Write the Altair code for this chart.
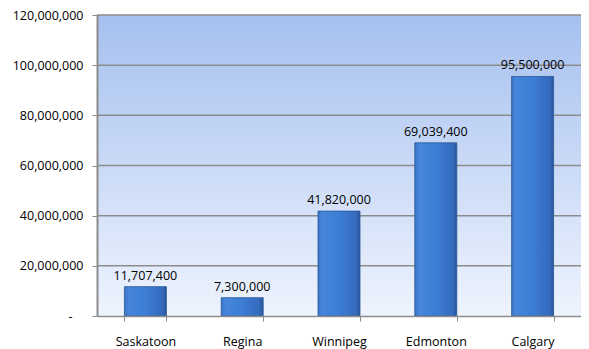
import altair as alt
import pandas as pd

cities = ["Saskatoon", "Regina", "Winnipeg", "Edmonton", "Calgary"]
values = [11707400, 7300000, 41820000, 69039400, 95500000]
y_ticks = [0, 20000000, 40000000, 60000000, 80000000, 100000000, 120000000]

df = pd.DataFrame({"city": cities, "value": values})
grid_df = pd.DataFrame({"tick": y_ticks[1:]})

FONT = "Open Sans"

bar_grad = alt.Gradient(
    gradient="linear", x1=0, x2=1, y1=0, y2=0,
    stops=[
        alt.GradientStop(offset=0, color="#3b73c4"),
        alt.GradientStop(offset=0.1, color="#4686dc"),
        alt.GradientStop(offset=0.5, color="#3c7dd5"),
        alt.GradientStop(offset=0.9, color="#346bbd"),
        alt.GradientStop(offset=1, color="#2a559b"),
    ],
)

bg_grad = alt.Gradient(
    gradient="linear", x1=0, x2=0, y1=0, y2=1,
    stops=[
        alt.GradientStop(offset=0, color="#a6c0ef"),
        alt.GradientStop(offset=1, color="#eef4fe"),
    ],
)

x = alt.X(
    "city:N", sort=cities,
    scale=alt.Scale(paddingInner=0.566, paddingOuter=0.283),
    axis=alt.Axis(
        title=None, labelAngle=0, tickBand="extent", tickSize=5,
        tickColor="#8c8c8c", domainColor="#8c8c8c", domainWidth=1.5,
        labelPadding=14, labelFont=FONT, labelFontSize=12.5, labelColor="#000000",
        grid=False, zindex=1,
    ),
)

y = alt.Y(
    "value:Q",
    scale=alt.Scale(domain=[0, 120000000], nice=False),
    axis=alt.Axis(
        title=None, values=y_ticks,
        labelExpr="datum.value == 0 ? '-' : format(datum.value, ',')",
        tickSize=5, tickColor="#8c8c8c", domainColor="#8c8c8c", domainWidth=2,
        grid=False, zindex=1,
        labelPadding={"condition": {"test": "datum.value == 0", "value": 20}, "value": 9},
        labelFont=FONT, labelFontSize=12.5, labelColor="#000000",
    ),
)

bg = alt.Chart(pd.DataFrame({"k": [0]})).mark_rect(color=bg_grad).encode(
    x=alt.value(0), x2=alt.value("width"),
    y=alt.value(0), y2=alt.value("height"),
)

grid = alt.Chart(grid_df).mark_rule(color="#8c8c8c", strokeWidth=1.5).encode(
    y=alt.Y("tick:Q"),
)

bars = alt.Chart(df).mark_bar(
    color=bar_grad, stroke="#2a5896", strokeWidth=0.8,
).encode(x=x, y=y)

labels = alt.Chart(df).mark_text(
    dy=-11, font=FONT, fontSize=12.5, color="#000000",
).encode(
    x=alt.X("city:N", sort=cities),
    y=alt.Y("value:Q"),
    text=alt.Text("value:Q", format=","),
)

chart = (
    alt.layer(bg, grid, bars, labels)
    .properties(
        width=484, height=301,
        autosize=alt.AutoSizeParams(type="none"),
        padding={"left": 89, "top": 7, "right": 0, "bottom": 33},
        background="#ffffff",
    )
    .configure_view(stroke=None)
)

chart.save("out.html", embed_options={"renderer": "svg", "actions": False})
